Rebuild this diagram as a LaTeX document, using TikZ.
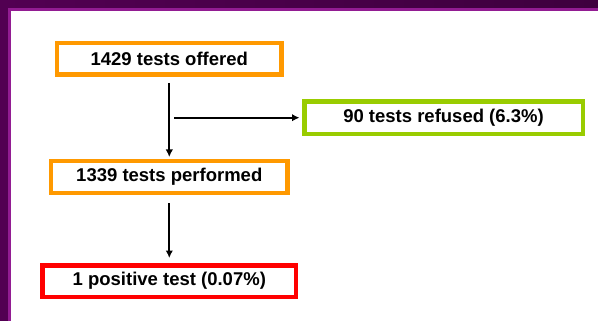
\documentclass[tikz,border=0pt]{standalone}
\usepackage{fontspec}
\setmainfont{Liberation Sans}
\usetikzlibrary{arrows.meta}
\definecolor{darkpurple}{HTML}{520052}
\definecolor{darkpurpleR}{HTML}{3E003E}
\definecolor{magline}{HTML}{921C92}
\definecolor{boxorange}{HTML}{FF9900}
\definecolor{boxgreen}{HTML}{99CC00}
\definecolor{boxred}{HTML}{FF0000}
\tikzset{
  flowbox/.style={draw, line width=4.5pt, fill=white, inner sep=0pt, font=\fontsize{18.5}{22}\selectfont\bfseries},
  flowarrow/.style={line width=2pt, -{Latex[length=7.5pt,width=7.5pt]}}
}
\begin{document}
\begin{tikzpicture}[x=1pt,y=-1pt]
\useasboundingbox (0,0) rectangle (598,321);
\fill[white] (0,0) rectangle (598,321);
% frame
\shade[left color=darkpurple, right color=darkpurpleR] (0,0) rectangle (598,8);
\fill[darkpurple] (0,0) rectangle (8,321);
\fill[magline] (8,8) rectangle (598,11);
\fill[magline] (8,8) rectangle (11,321);
% boxes
\node[flowbox, draw=boxorange, minimum width=224.5pt, minimum height=31.5pt] (b1) at (169.3,59) {1429 tests offered};
\node[flowbox, draw=boxgreen, minimum width=278.5pt, minimum height=32.5pt] (b2) at (443.5,117.7) {90 tests refused (6.3\%)};
\node[flowbox, draw=boxorange, minimum width=236.5pt, minimum height=31.5pt] (b3) at (169.3,177) {1339 tests performed};
\node[flowbox, draw=boxred, minimum width=253.5pt, minimum height=31.5pt] (b4) at (169.3,281) {1 positive test (0.07\%)};
% connectors
\coordinate (split) at (174,117.7);
\draw[flowarrow, shorten <=6pt, shorten >=2pt] (b1.south) -- (b3.north);
\draw[flowarrow, shorten >=2.5pt] (split) -- (b2.west);
\draw[flowarrow, shorten <=8pt, shorten >=5pt] (b3.south) -- (b4.north);
\end{tikzpicture}
\end{document}
